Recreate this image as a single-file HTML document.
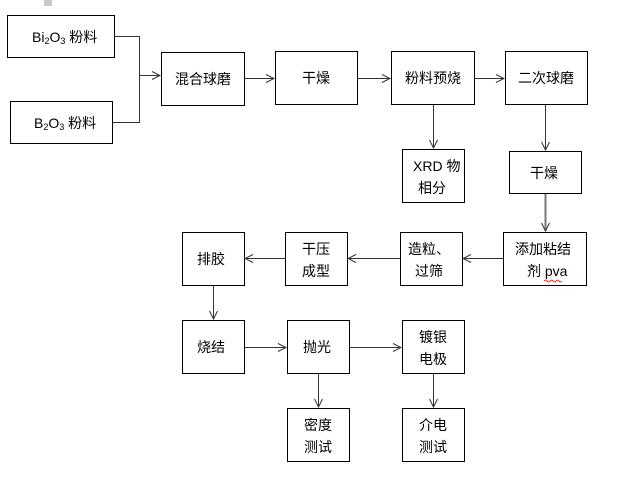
<!DOCTYPE html><html><head><style>body{margin:0;background:#fff}svg{display:block}text{font-family:"Liberation Sans","Noto Sans CJK SC",sans-serif;font-size:14px;fill:#000}</style></head><body>
<svg width="624" height="497" viewBox="0 0 624 497" xmlns="http://www.w3.org/2000/svg">
<defs><marker id="a" markerWidth="10" markerHeight="10" refX="9" refY="5" orient="auto" markerUnits="userSpaceOnUse"><path d="M1,1 L9,5 L1,9" fill="none" stroke="#333" stroke-width="1"/></marker></defs>
<rect x="44" y="0" width="8" height="6" fill="#c8c8c8"/>
<g fill="#fff" stroke="#000" stroke-width="1">
<rect x="7.5" y="15.5" width="107" height="42"/>
<rect x="10.5" y="101.5" width="102" height="42"/>
<rect x="161.5" y="52.5" width="83" height="53"/>
<rect x="275.5" y="51.5" width="82" height="53"/>
<rect x="391.5" y="51.5" width="83" height="53"/>
<rect x="505.5" y="51.5" width="82" height="53"/>
<rect x="402.5" y="149.5" width="62" height="53"/>
<rect x="509.5" y="151.5" width="72" height="42"/>
<rect x="503.5" y="232.5" width="83" height="53"/>
<rect x="400.5" y="232.5" width="62" height="53"/>
<rect x="285.5" y="232.5" width="62" height="53"/>
<rect x="182.5" y="232.5" width="62" height="53"/>
<rect x="182.5" y="320.5" width="62" height="53"/>
<rect x="287.5" y="320.5" width="62" height="53"/>
<rect x="402.5" y="320.5" width="62" height="53"/>
<rect x="287.5" y="408.5" width="62" height="53"/>
<rect x="402.5" y="408.5" width="62" height="53"/>
</g>
<g fill="none" stroke="#333" stroke-width="1">
<path d="M114.5,36.5 H139.5 V122.5 H112.5"/>
<path d="M139,75.5 H160" marker-end="url(#a)"/>
<path d="M245,78.5 H274" marker-end="url(#a)"/>
<path d="M358,78.5 H390" marker-end="url(#a)"/>
<path d="M475,78.5 H504" marker-end="url(#a)"/>
<path d="M433.5,105 V148" marker-end="url(#a)"/>
<path d="M545.5,105 V150" marker-end="url(#a)"/>
<path d="M545.5,194 V231" stroke="#777" stroke-width="2" marker-end="url(#a)"/>
<path d="M503,258.5 H463" marker-end="url(#a)"/>
<path d="M400,258.5 H348" marker-end="url(#a)"/>
<path d="M285,258.5 H245" marker-end="url(#a)"/>
<path d="M213.5,286 V319" marker-end="url(#a)"/>
<path d="M245,347.5 H286" marker-end="url(#a)"/>
<path d="M350,347.5 H401" marker-end="url(#a)"/>
<path d="M318.5,374 V407" marker-end="url(#a)"/>
<path d="M433.5,374 V407" marker-end="url(#a)"/>
</g>
<text x="32" y="42">Bi<tspan font-size="9" dy="2">2</tspan><tspan dy="-2">O</tspan><tspan font-size="9" dy="2">3</tspan><tspan dy="-2"> 粉料</tspan></text>
<text x="34" y="128">B<tspan font-size="9" dy="2">2</tspan><tspan dy="-2">O</tspan><tspan font-size="9" dy="2">3</tspan><tspan dy="-2"> 粉料</tspan></text>
<text x="175" y="84">混合球磨</text>
<text x="302" y="83">干燥</text>
<text x="405" y="83">粉料预烧</text>
<text x="518" y="83">二次球磨</text>
<text x="413" y="171">XRD 物</text>
<text x="418" y="193">相分</text>
<text x="530" y="178">干燥</text>
<text x="515" y="254">添加粘结</text>
<text x="527" y="276">剂 pva</text>
<path d="M544,281 q1.5,-2 3,0 t3,0 t3,0 t3,0 t3,0 t3,0" fill="none" stroke="#e00" stroke-width="0.8"/>
<text x="408" y="254">造粒、</text>
<text x="415" y="276">过筛</text>
<text x="302" y="254">干压</text>
<text x="302" y="276">成型</text>
<text x="197" y="264">排胶</text>
<text x="197" y="352">烧结</text>
<text x="303" y="352">抛光</text>
<text x="419" y="342">镀银</text>
<text x="419" y="364">电极</text>
<text x="304" y="430">密度</text>
<text x="304" y="452">测试</text>
<text x="419" y="430">介电</text>
<text x="419" y="452">测试</text>
</svg></body></html>
